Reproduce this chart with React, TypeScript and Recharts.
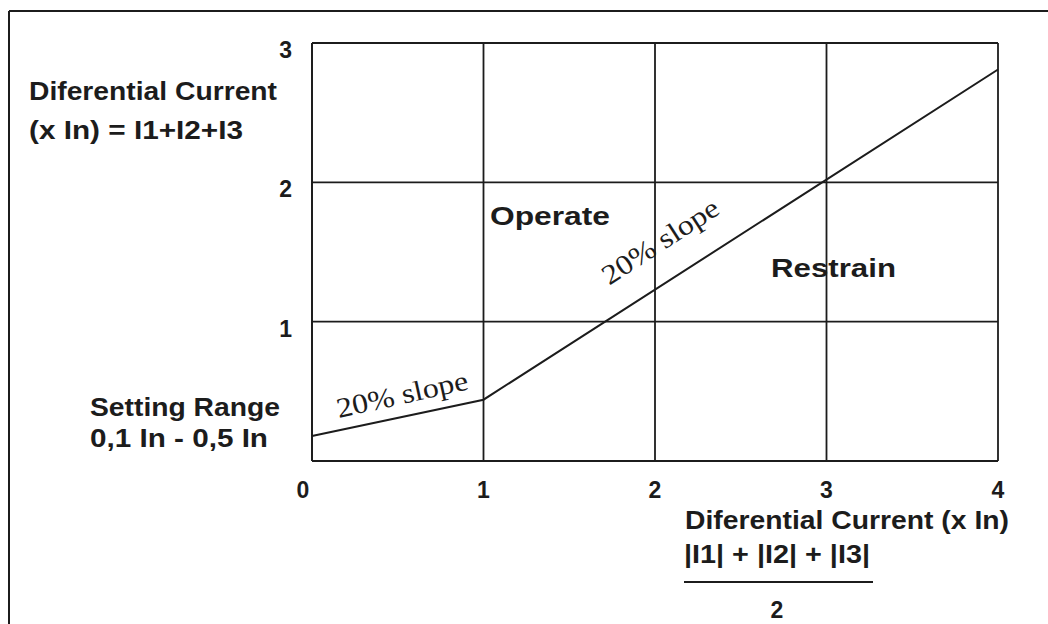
import { CartesianGrid, Line, LineChart, XAxis, YAxis } from "recharts";

const INK = "#1c1c1c";
const SANS = "'Liberation Sans', Arial, sans-serif";
const SERIF = "'Liberation Serif', 'Times New Roman', serif";

// characteristic: restraint current (x In) -> differential current (x In)
const restraint = [0, 1, 4];
const differential = [0.18, 0.44, 2.81];
const xTicks = [0, 1, 2, 3, 4];
const yTicks = [0, 1, 2, 3];

const data = restraint.map((r, i) => ({ r, d: differential[i] }));

function XTick(props: any) {
  const { x, y, payload } = props;
  const dx = payload.value === 0 ? -9 : 0;
  return (
    <text x={x + dx} y={y + 37} textAnchor="middle" fontFamily={SANS} fontWeight="bold" fontSize={23} fill={INK}>
      {payload.value}
    </text>
  );
}

function YTick(props: any) {
  const { x, y, payload } = props;
  if (payload.value === 0) return null;
  return (
    <text x={x - 20} y={y + 15} textAnchor="end" fontFamily={SANS} fontWeight="bold" fontSize={23} fill={INK}>
      {payload.value}
    </text>
  );
}

function Label({ x, y, len, children, size = 25 }: any) {
  return (
    <text
      x={x}
      y={y}
      textLength={len}
      lengthAdjust="spacingAndGlyphs"
      fontFamily={SANS}
      fontWeight="bold"
      fontSize={size}
      fill={INK}
    >
      {children}
    </text>
  );
}

function Slope({ cx, cy, angle }: any) {
  return (
    <text
      x={cx}
      y={cy}
      dy="0.35em"
      textAnchor="middle"
      textLength={134}
      lengthAdjust="spacingAndGlyphs"
      transform={`rotate(${angle} ${cx} ${cy})`}
      fontFamily={SERIF}
      fontSize={28}
      fill={INK}
    >
      20% slope
    </text>
  );
}

export default function App() {
  return (
    <div style={{ position: "absolute", left: 0, top: 0, width: 1048, height: 624, background: "#fff" }}>
      <LineChart width={1048} height={624} data={data} margin={{ top: 43, right: 50, bottom: 133, left: 292 }}>
        <CartesianGrid stroke={INK} strokeWidth={1.8} />
        <XAxis
          type="number"
          dataKey="r"
          domain={[0, 4]}
          ticks={xTicks}
          height={30}
          tickSize={0}
          tickMargin={0}
          tickLine={false}
          axisLine={{ stroke: INK, strokeWidth: 1.8 }}
          tick={<XTick />}
        />
        <YAxis
          type="number"
          domain={[0, 3]}
          ticks={yTicks}
          width={20}
          tickSize={0}
          tickMargin={0}
          tickLine={false}
          axisLine={{ stroke: INK, strokeWidth: 1.8 }}
          tick={<YTick />}
        />
        <Line type="linear" dataKey="d" stroke={INK} strokeWidth={2} dot={false} isAnimationActive={false} />
      </LineChart>
      <svg width={1048} height={624} style={{ position: "absolute", left: 0, top: 0, pointerEvents: "none" }}>
        <line x1={9} y1={11} x2={1048} y2={11} stroke={INK} strokeWidth={2} />
        <line x1={9} y1={11} x2={9} y2={624} stroke={INK} strokeWidth={2} />

        <Label x={29} y={100} len={248}>Diferential Current</Label>
        <Label x={29} y={139} len={214}>(x In) = I1+I2+I3</Label>
        <Label x={90} y={416} len={190}>Setting Range</Label>
        <Label x={90} y={447} len={178}>0,1 In - 0,5 In</Label>
        <Label x={490} y={225} len={120}>Operate</Label>
        <Label x={771} y={277} len={125}>Restrain</Label>

        <Slope cx={402} cy={394} angle={-12.5} />
        <Slope cx={660} cy={241} angle={-33} />

        <Label x={685} y={529} len={324}>Diferential Current (x In)</Label>
        <Label x={684} y={563} len={186}>|I1| + |I2| + |I3|</Label>
        <line x1={684} y1={582} x2={873} y2={582} stroke={INK} strokeWidth={2} />
        <text x={777} y={618} textAnchor="middle" fontFamily={SANS} fontWeight="bold" fontSize={23} fill={INK}>
          2
        </text>
      </svg>
    </div>
  );
}
